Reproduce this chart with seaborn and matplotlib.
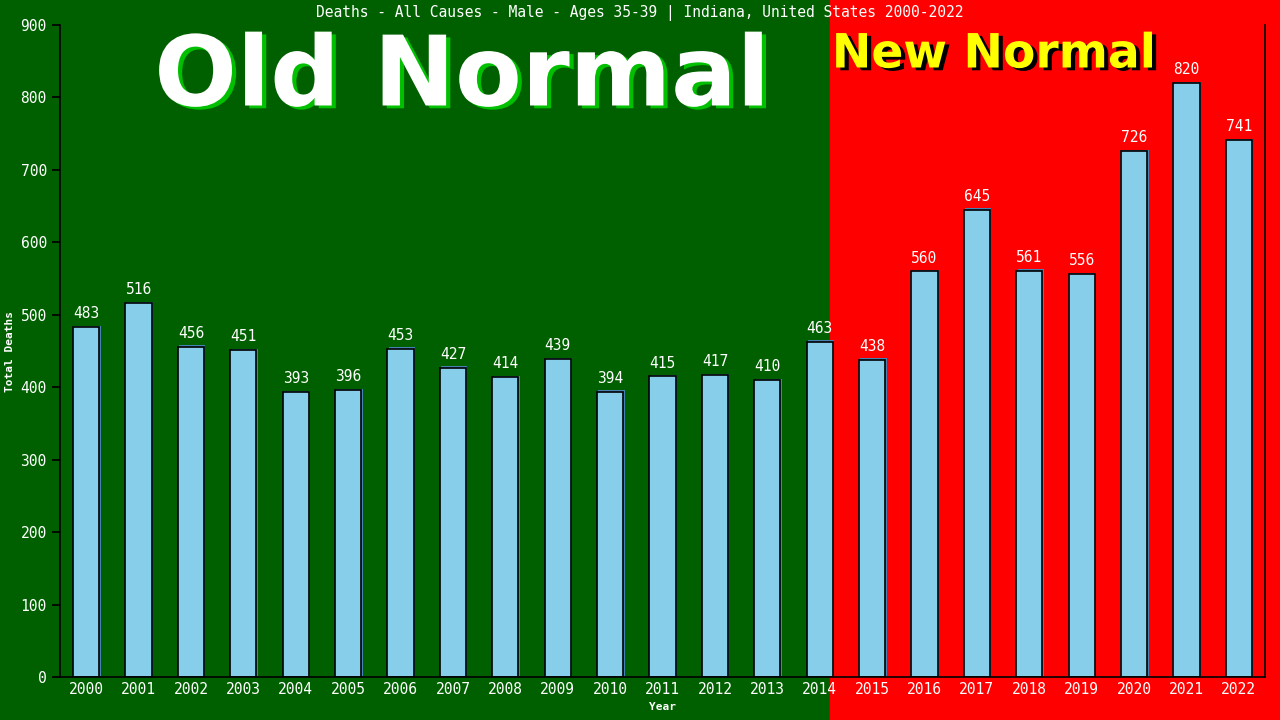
import matplotlib
matplotlib.use("Agg")
import matplotlib.pyplot as plt
import matplotlib.patheffects as pe
import seaborn as sns
import pandas as pd

# -----------------------------
# Data
# -----------------------------
years = [str(y) for y in range(2000, 2023)]
deaths = [483, 516, 456, 451, 393, 396, 453, 427, 414, 439, 394, 415,
          417, 410, 463, 438, 560, 645, 561, 556, 726, 820, 741]
title = "Deaths - All Causes - Male - Ages 35-39 | Indiana, United States 2000-2022"

df = pd.DataFrame({"year": years, "deaths": deaths})

sns.set_theme(style="white")
plt.rcParams['font.family'] = ['DejaVu Sans Mono', 'DejaVu Sans']

fig = plt.figure(figsize=(12.8, 7.2), dpi=100)
fig.patch.set_facecolor("#006000")
# red "new normal" zone on the right of the figure (behind the axes)
fig.patches.append(plt.Rectangle((830 / 1280, 0), 1 - 830 / 1280, 1,
                                 transform=fig.transFigure, color="#ff0000", zorder=-5))

ax = fig.add_axes([60 / 1280, 43 / 720, 1205 / 1280, 652 / 720])
ax.set_facecolor("none")
ax.set_zorder(1)

sns.barplot(data=df, x="year", y="deaths", color="#87ceeb", edgecolor="black",
            linewidth=1.2, width=0.5, saturation=1, ax=ax)
for p in ax.patches:
    p.set_path_effects([pe.SimplePatchShadow(offset=(1, 1), shadow_rgbFace="#4682b4", alpha=1),
                        pe.Normal()])

for i, v in enumerate(deaths):
    ax.text(i, v + 8, str(v), ha="center", va="bottom", color="white", fontsize=10.5)

ax.set_xlim(-0.5, len(years) - 0.5)
ax.set_ylim(0, 900)
ax.set_yticks(range(0, 901, 100))
ax.tick_params(axis="both", colors="white", labelsize=10.5, length=0)
ax.tick_params(axis="y", length=6, color="black", direction="out", left=True)
ax.set_xlabel("Year", color="white", fontsize=8, fontweight="bold")
ax.set_ylabel("Total Deaths", color="white", fontsize=8, fontweight="bold")
for side in ["left", "bottom", "right"]:
    ax.spines[side].set_visible(True)
    ax.spines[side].set_color("black")
    ax.spines[side].set_linewidth(1.2)
ax.spines["top"].set_visible(False)
ax.grid(False)

fig.text(0.5, 1 - 13 / 720, title, ha="center", va="center", color="white", fontsize=10.5)

fig.text(462 / 1280, 1 - 79 / 720, "Old Normal", ha="center", va="center",
         color="white", fontsize=70, fontweight="bold", family="DejaVu Sans",
         path_effects=[pe.SimplePatchShadow(offset=(3, -2), shadow_rgbFace="#00c000", alpha=1),
                       pe.Normal()])
fig.text(994 / 1280, 1 - 55 / 720, "New Normal", ha="center", va="center",
         color="#ffff00", fontsize=34, fontweight="bold", family="DejaVu Sans",
         path_effects=[pe.SimplePatchShadow(offset=(3, -2), shadow_rgbFace="black", alpha=1),
                       pe.Normal()])

fig.savefig("out.png", dpi=100, facecolor=fig.get_facecolor())
